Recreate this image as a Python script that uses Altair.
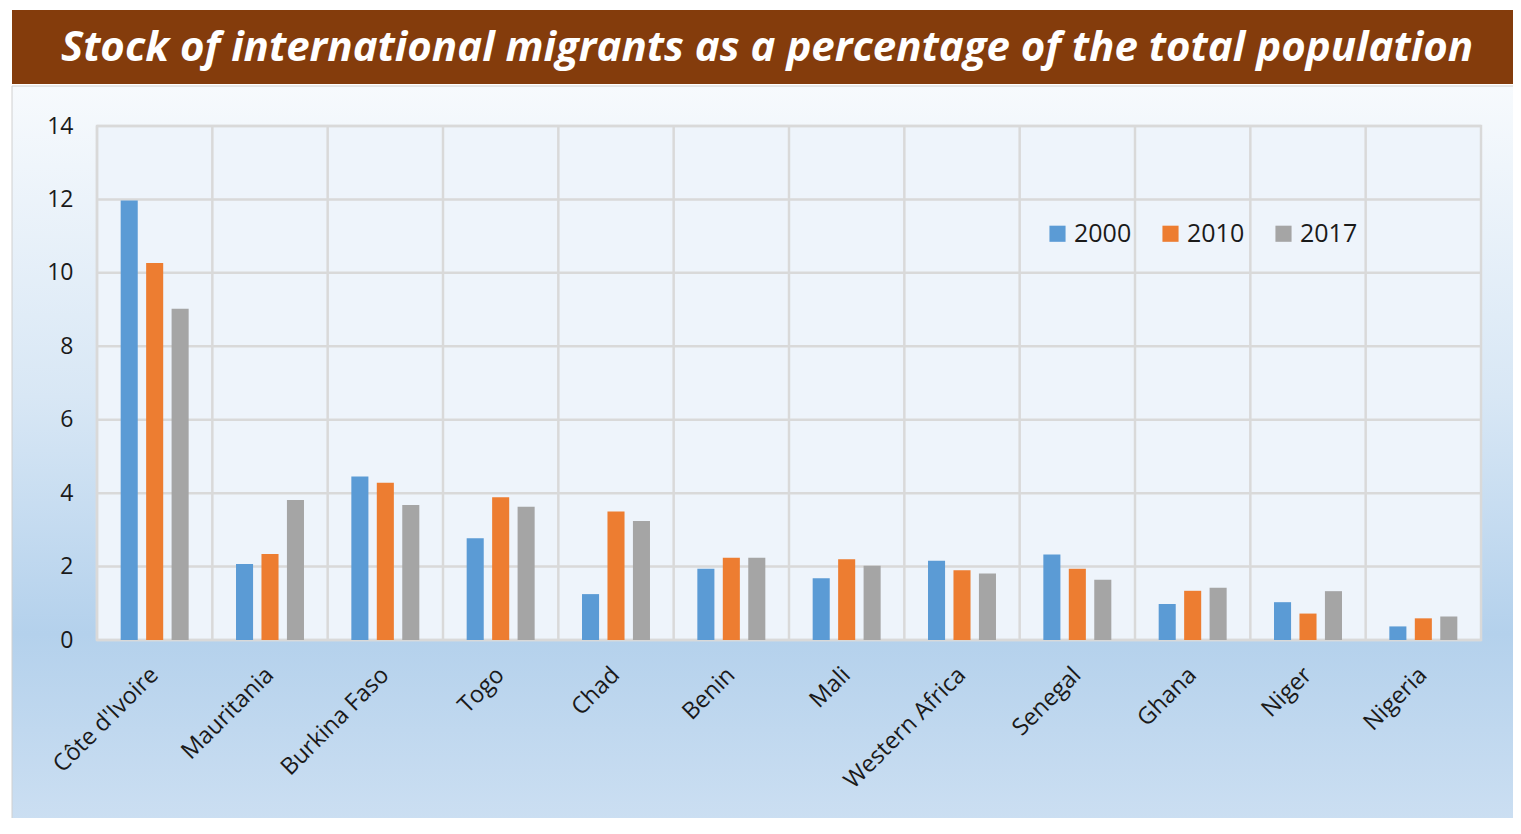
import altair as alt
import pandas as pd

countries = ["Côte d'Ivoire", "Mauritania", "Burkina Faso", "Togo", "Chad", "Benin",
             "Mali", "Western Africa", "Senegal", "Ghana", "Niger", "Nigeria"]
years = ["2000", "2010", "2017"]
v2000 = [11.97, 2.07, 4.45, 2.77, 1.25, 1.94, 1.68, 2.16, 2.33, 0.98, 1.03, 0.37]
v2010 = [10.27, 2.34, 4.28, 3.89, 3.50, 2.24, 2.20, 1.90, 1.94, 1.34, 0.72, 0.59]
v2017 = [9.02, 3.81, 3.68, 3.63, 3.24, 2.24, 2.02, 1.81, 1.64, 1.42, 1.33, 0.64]
colors = ["#5B9BD5", "#ED7D31", "#A5A5A5"]
y_ticks = [0, 2, 4, 6, 8, 10, 12, 14]
title_text = "Stock of international migrants as a percentage of the total population"

rows = []
for i, c in enumerate(countries):
    for yr, vals in zip(years, [v2000, v2010, v2017]):
        rows.append({"country": c, "year": yr, "value": vals[i]})
df = pd.DataFrame(rows)

W, H = 1384, 514
FONT = "Open Sans"
GRID = "#D9D9D9"

xscale = alt.Scale(domain=countries, type="band", paddingInner=0, paddingOuter=0)
yscale = alt.Scale(domain=[0, 14], nice=False, zero=True)

one = pd.DataFrame({"t": [title_text]})

bg = alt.Chart(one).mark_rect(
    fill=alt.Gradient(
        gradient="linear", x1=0, y1=0, x2=0, y2=1,
        stops=[alt.GradientStop(color="#F7FAFD", offset=0),
               alt.GradientStop(color="#D8E7F5", offset=0.42),
               alt.GradientStop(color="#B4D1EC", offset=0.74),
               alt.GradientStop(color="#CCDFF2", offset=1)]),
    stroke="#D0D0D0", strokeWidth=1
).encode(x=alt.value(-85), x2=alt.value(1430), y=alt.value(-40), y2=alt.value(700))

titlebar = alt.Chart(one).mark_rect(fill="#843C0C").encode(
    x=alt.value(-85), x2=alt.value(1430), y=alt.value(-116), y2=alt.value(-42))

titletext = alt.Chart(one).mark_text(
    color="white", font=FONT, fontSize=42, fontStyle="italic", fontWeight="bold",
    align="center", baseline="middle"
).encode(x=alt.value(670), y=alt.value(-78), text="t:N")

plotbg = alt.Chart(one).mark_rect(fill="#EEF4FB", stroke=GRID, strokeWidth=2.5).encode(
    x=alt.value(0), x2=alt.value(W), y=alt.value(0), y2=alt.value(H))

hrules = alt.Chart(pd.DataFrame({"v": y_ticks})).mark_rule(color=GRID, strokeWidth=2.5).encode(
    y=alt.Y("v:Q", scale=yscale, title=None))

vrules = alt.Chart(pd.DataFrame({"country": countries})).mark_rule(color=GRID, strokeWidth=2.5).encode(
    x=alt.X("country:N", scale=xscale, sort=countries, bandPosition=0, title=None))

bars = alt.Chart(df).mark_bar().encode(
    x=alt.X("country:N", scale=xscale, sort=countries, title=None,
            axis=alt.Axis(labelAngle=-45, labelAlign="right", labelBaseline="middle",
                          labelFontSize=23.5, labelFont=FONT, labelColor="#1A1A1A",
                          labelPadding=31, domain=False, ticks=False, grid=False, zindex=1)),
    xOffset=alt.XOffset("year:N", sort=years, scale=alt.Scale(paddingInner=0.33, paddingOuter=0.93)),
    y=alt.Y("value:Q", scale=yscale, title=None,
            axis=alt.Axis(values=y_ticks, labelFontSize=23, labelFont=FONT, labelColor="#1A1A1A",
                          labelPadding=24, domain=False, ticks=False, grid=False, zindex=1)),
    color=alt.Color("year:N", scale=alt.Scale(domain=years, range=colors),
                    legend=alt.Legend(orient="none", legendX=948, legendY=95, direction="horizontal",
                                      title=None, symbolType="square", symbolSize=260,
                                      symbolStrokeWidth=0, labelFontSize=25, labelFont=FONT,
                                      labelColor="#1A1A1A", columnPadding=26, labelOffset=4)),
)

chart = alt.layer(bg, titlebar, titletext, plotbg, hrules, vrules, bars).properties(
    width=W, height=H,
    autosize=alt.AutoSizeParams(type="none"),
    padding={"left": 89, "top": 118, "right": 32, "bottom": 178},
    background="white",
).configure_view(stroke=None).configure_axis(grid=False)

chart.save("out.html", embed_options={"renderer": "svg", "actions": False})
